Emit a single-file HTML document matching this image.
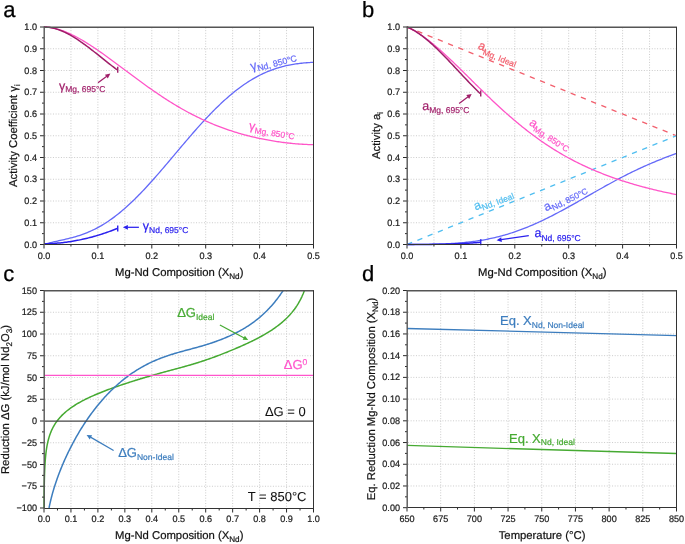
<!DOCTYPE html>
<html><head><meta charset="utf-8"><style>
html,body{margin:0;padding:0;background:#fff;}
body{width:685px;height:544px;overflow:hidden;font-family:"Liberation Sans", sans-serif;}
svg{display:block;will-change:transform;text-rendering:geometricPrecision;}
</style></head><body>
<svg width="685" height="544" viewBox="0 0 685 544" font-family='"Liberation Sans", sans-serif'>
<rect width="685" height="544" fill="#fff"/>
<text x="3.2" y="17.2" font-size="22" text-anchor="start" fill="#000" stroke="#000" stroke-width="0.25" >a</text>
<text x="362" y="17.2" font-size="22" text-anchor="start" fill="#000" stroke="#000" stroke-width="0.25" >b</text>
<text x="3.2" y="281" font-size="22" text-anchor="start" fill="#000" stroke="#000" stroke-width="0.25" >c</text>
<text x="362" y="281" font-size="22" text-anchor="start" fill="#000" stroke="#000" stroke-width="0.25" >d</text>
<line x1="70.95" y1="27.5" x2="70.95" y2="244" stroke="#cbcbcb" stroke-width="1" stroke-dasharray="1 1.65"/>
<line x1="97.9" y1="27.5" x2="97.9" y2="244" stroke="#cbcbcb" stroke-width="1" stroke-dasharray="1 1.65"/>
<line x1="124.85" y1="27.5" x2="124.85" y2="244" stroke="#cbcbcb" stroke-width="1" stroke-dasharray="1 1.65"/>
<line x1="151.8" y1="27.5" x2="151.8" y2="244" stroke="#cbcbcb" stroke-width="1" stroke-dasharray="1 1.65"/>
<line x1="178.75" y1="27.5" x2="178.75" y2="244" stroke="#cbcbcb" stroke-width="1" stroke-dasharray="1 1.65"/>
<line x1="205.7" y1="27.5" x2="205.7" y2="244" stroke="#cbcbcb" stroke-width="1" stroke-dasharray="1 1.65"/>
<line x1="232.65" y1="27.5" x2="232.65" y2="244" stroke="#cbcbcb" stroke-width="1" stroke-dasharray="1 1.65"/>
<line x1="259.6" y1="27.5" x2="259.6" y2="244" stroke="#cbcbcb" stroke-width="1" stroke-dasharray="1 1.65"/>
<line x1="286.55" y1="27.5" x2="286.55" y2="244" stroke="#cbcbcb" stroke-width="1" stroke-dasharray="1 1.65"/>
<line x1="45" y1="222.75" x2="313" y2="222.75" stroke="#cbcbcb" stroke-width="1" stroke-dasharray="1 1.65"/>
<line x1="45" y1="201" x2="313" y2="201" stroke="#cbcbcb" stroke-width="1" stroke-dasharray="1 1.65"/>
<line x1="45" y1="179.25" x2="313" y2="179.25" stroke="#cbcbcb" stroke-width="1" stroke-dasharray="1 1.65"/>
<line x1="45" y1="157.5" x2="313" y2="157.5" stroke="#cbcbcb" stroke-width="1" stroke-dasharray="1 1.65"/>
<line x1="45" y1="135.75" x2="313" y2="135.75" stroke="#cbcbcb" stroke-width="1" stroke-dasharray="1 1.65"/>
<line x1="45" y1="114" x2="313" y2="114" stroke="#cbcbcb" stroke-width="1" stroke-dasharray="1 1.65"/>
<line x1="45" y1="92.25" x2="313" y2="92.25" stroke="#cbcbcb" stroke-width="1" stroke-dasharray="1 1.65"/>
<line x1="45" y1="70.5" x2="313" y2="70.5" stroke="#cbcbcb" stroke-width="1" stroke-dasharray="1 1.65"/>
<line x1="45" y1="48.75" x2="313" y2="48.75" stroke="#cbcbcb" stroke-width="1" stroke-dasharray="1 1.65"/>
<line x1="433.95" y1="27.5" x2="433.95" y2="244" stroke="#cbcbcb" stroke-width="1" stroke-dasharray="1 1.65"/>
<line x1="460.9" y1="27.5" x2="460.9" y2="244" stroke="#cbcbcb" stroke-width="1" stroke-dasharray="1 1.65"/>
<line x1="487.85" y1="27.5" x2="487.85" y2="244" stroke="#cbcbcb" stroke-width="1" stroke-dasharray="1 1.65"/>
<line x1="514.8" y1="27.5" x2="514.8" y2="244" stroke="#cbcbcb" stroke-width="1" stroke-dasharray="1 1.65"/>
<line x1="541.75" y1="27.5" x2="541.75" y2="244" stroke="#cbcbcb" stroke-width="1" stroke-dasharray="1 1.65"/>
<line x1="568.7" y1="27.5" x2="568.7" y2="244" stroke="#cbcbcb" stroke-width="1" stroke-dasharray="1 1.65"/>
<line x1="595.65" y1="27.5" x2="595.65" y2="244" stroke="#cbcbcb" stroke-width="1" stroke-dasharray="1 1.65"/>
<line x1="622.6" y1="27.5" x2="622.6" y2="244" stroke="#cbcbcb" stroke-width="1" stroke-dasharray="1 1.65"/>
<line x1="649.55" y1="27.5" x2="649.55" y2="244" stroke="#cbcbcb" stroke-width="1" stroke-dasharray="1 1.65"/>
<line x1="408" y1="222.75" x2="676" y2="222.75" stroke="#cbcbcb" stroke-width="1" stroke-dasharray="1 1.65"/>
<line x1="408" y1="201" x2="676" y2="201" stroke="#cbcbcb" stroke-width="1" stroke-dasharray="1 1.65"/>
<line x1="408" y1="179.25" x2="676" y2="179.25" stroke="#cbcbcb" stroke-width="1" stroke-dasharray="1 1.65"/>
<line x1="408" y1="157.5" x2="676" y2="157.5" stroke="#cbcbcb" stroke-width="1" stroke-dasharray="1 1.65"/>
<line x1="408" y1="135.75" x2="676" y2="135.75" stroke="#cbcbcb" stroke-width="1" stroke-dasharray="1 1.65"/>
<line x1="408" y1="114" x2="676" y2="114" stroke="#cbcbcb" stroke-width="1" stroke-dasharray="1 1.65"/>
<line x1="408" y1="92.25" x2="676" y2="92.25" stroke="#cbcbcb" stroke-width="1" stroke-dasharray="1 1.65"/>
<line x1="408" y1="70.5" x2="676" y2="70.5" stroke="#cbcbcb" stroke-width="1" stroke-dasharray="1 1.65"/>
<line x1="408" y1="48.75" x2="676" y2="48.75" stroke="#cbcbcb" stroke-width="1" stroke-dasharray="1 1.65"/>
<line x1="70.95" y1="291" x2="70.95" y2="507.5" stroke="#cbcbcb" stroke-width="1" stroke-dasharray="1 1.65"/>
<line x1="97.9" y1="291" x2="97.9" y2="507.5" stroke="#cbcbcb" stroke-width="1" stroke-dasharray="1 1.65"/>
<line x1="124.85" y1="291" x2="124.85" y2="507.5" stroke="#cbcbcb" stroke-width="1" stroke-dasharray="1 1.65"/>
<line x1="151.8" y1="291" x2="151.8" y2="507.5" stroke="#cbcbcb" stroke-width="1" stroke-dasharray="1 1.65"/>
<line x1="178.75" y1="291" x2="178.75" y2="507.5" stroke="#cbcbcb" stroke-width="1" stroke-dasharray="1 1.65"/>
<line x1="205.7" y1="291" x2="205.7" y2="507.5" stroke="#cbcbcb" stroke-width="1" stroke-dasharray="1 1.65"/>
<line x1="232.65" y1="291" x2="232.65" y2="507.5" stroke="#cbcbcb" stroke-width="1" stroke-dasharray="1 1.65"/>
<line x1="259.6" y1="291" x2="259.6" y2="507.5" stroke="#cbcbcb" stroke-width="1" stroke-dasharray="1 1.65"/>
<line x1="286.55" y1="291" x2="286.55" y2="507.5" stroke="#cbcbcb" stroke-width="1" stroke-dasharray="1 1.65"/>
<line x1="45" y1="486.25" x2="313" y2="486.25" stroke="#cbcbcb" stroke-width="1" stroke-dasharray="1 1.65"/>
<line x1="45" y1="464.5" x2="313" y2="464.5" stroke="#cbcbcb" stroke-width="1" stroke-dasharray="1 1.65"/>
<line x1="45" y1="442.75" x2="313" y2="442.75" stroke="#cbcbcb" stroke-width="1" stroke-dasharray="1 1.65"/>
<line x1="45" y1="399.25" x2="313" y2="399.25" stroke="#cbcbcb" stroke-width="1" stroke-dasharray="1 1.65"/>
<line x1="45" y1="377.5" x2="313" y2="377.5" stroke="#cbcbcb" stroke-width="1" stroke-dasharray="1 1.65"/>
<line x1="45" y1="355.75" x2="313" y2="355.75" stroke="#cbcbcb" stroke-width="1" stroke-dasharray="1 1.65"/>
<line x1="45" y1="334" x2="313" y2="334" stroke="#cbcbcb" stroke-width="1" stroke-dasharray="1 1.65"/>
<line x1="45" y1="312.25" x2="313" y2="312.25" stroke="#cbcbcb" stroke-width="1" stroke-dasharray="1 1.65"/>
<line x1="440.69" y1="291" x2="440.69" y2="507.5" stroke="#cbcbcb" stroke-width="1" stroke-dasharray="1 1.65"/>
<line x1="474.38" y1="291" x2="474.38" y2="507.5" stroke="#cbcbcb" stroke-width="1" stroke-dasharray="1 1.65"/>
<line x1="508.06" y1="291" x2="508.06" y2="507.5" stroke="#cbcbcb" stroke-width="1" stroke-dasharray="1 1.65"/>
<line x1="541.75" y1="291" x2="541.75" y2="507.5" stroke="#cbcbcb" stroke-width="1" stroke-dasharray="1 1.65"/>
<line x1="575.44" y1="291" x2="575.44" y2="507.5" stroke="#cbcbcb" stroke-width="1" stroke-dasharray="1 1.65"/>
<line x1="609.12" y1="291" x2="609.12" y2="507.5" stroke="#cbcbcb" stroke-width="1" stroke-dasharray="1 1.65"/>
<line x1="642.81" y1="291" x2="642.81" y2="507.5" stroke="#cbcbcb" stroke-width="1" stroke-dasharray="1 1.65"/>
<line x1="408" y1="485.98" x2="676" y2="485.98" stroke="#cbcbcb" stroke-width="1" stroke-dasharray="1 1.65"/>
<line x1="408" y1="464.26" x2="676" y2="464.26" stroke="#cbcbcb" stroke-width="1" stroke-dasharray="1 1.65"/>
<line x1="408" y1="442.54" x2="676" y2="442.54" stroke="#cbcbcb" stroke-width="1" stroke-dasharray="1 1.65"/>
<line x1="408" y1="420.82" x2="676" y2="420.82" stroke="#cbcbcb" stroke-width="1" stroke-dasharray="1 1.65"/>
<line x1="408" y1="399.1" x2="676" y2="399.1" stroke="#cbcbcb" stroke-width="1" stroke-dasharray="1 1.65"/>
<line x1="408" y1="377.38" x2="676" y2="377.38" stroke="#cbcbcb" stroke-width="1" stroke-dasharray="1 1.65"/>
<line x1="408" y1="355.66" x2="676" y2="355.66" stroke="#cbcbcb" stroke-width="1" stroke-dasharray="1 1.65"/>
<line x1="408" y1="333.94" x2="676" y2="333.94" stroke="#cbcbcb" stroke-width="1" stroke-dasharray="1 1.65"/>
<line x1="408" y1="312.22" x2="676" y2="312.22" stroke="#cbcbcb" stroke-width="1" stroke-dasharray="1 1.65"/>
<path d="M44 244.5 L45.35 244.09 L46.71 243.7 L48.06 243.33 L49.42 242.97 L50.77 242.63 L52.13 242.3 L53.48 241.97 L54.83 241.66 L56.19 241.35 L57.54 241.05 L58.9 240.74 L60.25 240.44 L61.61 240.14 L62.96 239.84 L64.31 239.53 L65.67 239.21 L67.02 238.89 L68.38 238.56 L69.73 238.22 L71.09 237.88 L72.44 237.52 L73.79 237.14 L75.15 236.76 L76.5 236.36 L77.86 235.94 L79.21 235.51 L80.57 235.06 L81.92 234.59 L83.27 234.11 L84.63 233.6 L85.98 233.08 L87.34 232.53 L88.69 231.97 L90.05 231.38 L91.4 230.77 L92.75 230.14 L94.11 229.49 L95.46 228.81 L96.82 228.11 L98.17 227.39 L99.53 226.64 L100.88 225.88 L102.23 225.08 L103.59 224.27 L104.94 223.43 L106.3 222.56 L107.65 221.67 L109.01 220.76 L110.36 219.83 L111.71 218.87 L113.07 217.89 L114.42 216.88 L115.78 215.85 L117.13 214.8 L118.48 213.72 L119.84 212.62 L121.19 211.5 L122.55 210.36 L123.9 209.2 L125.26 208.01 L126.61 206.81 L127.96 205.58 L129.32 204.34 L130.67 203.07 L132.03 201.79 L133.38 200.48 L134.74 199.16 L136.09 197.82 L137.44 196.46 L138.8 195.08 L140.15 193.69 L141.51 192.29 L142.86 190.86 L144.22 189.43 L145.57 187.98 L146.92 186.51 L148.28 185.03 L149.63 183.54 L150.99 182.04 L152.34 180.53 L153.7 179 L155.05 177.47 L156.4 175.92 L157.76 174.37 L159.11 172.81 L160.47 171.24 L161.82 169.67 L163.18 168.09 L164.53 166.5 L165.88 164.91 L167.24 163.32 L168.59 161.72 L169.95 160.12 L171.3 158.51 L172.66 156.91 L174.01 155.3 L175.36 153.69 L176.72 152.08 L178.07 150.48 L179.43 148.87 L180.78 147.27 L182.14 145.67 L183.49 144.08 L184.84 142.48 L186.2 140.9 L187.55 139.31 L188.91 137.74 L190.26 136.17 L191.62 134.61 L192.97 133.05 L194.32 131.5 L195.68 129.97 L197.03 128.44 L198.39 126.92 L199.74 125.41 L201.1 123.91 L202.45 122.43 L203.8 120.95 L205.16 119.49 L206.51 118.04 L207.87 116.61 L209.22 115.19 L210.58 113.78 L211.93 112.39 L213.28 111.01 L214.64 109.65 L215.99 108.31 L217.35 106.98 L218.7 105.67 L220.06 104.37 L221.41 103.09 L222.76 101.83 L224.12 100.59 L225.47 99.37 L226.83 98.17 L228.18 96.98 L229.54 95.82 L230.89 94.67 L232.24 93.55 L233.6 92.44 L234.95 91.35 L236.31 90.29 L237.66 89.25 L239.02 88.22 L240.37 87.22 L241.72 86.24 L243.08 85.28 L244.43 84.34 L245.79 83.42 L247.14 82.53 L248.49 81.65 L249.85 80.8 L251.2 79.97 L252.56 79.16 L253.91 78.37 L255.27 77.61 L256.62 76.86 L257.97 76.14 L259.33 75.44 L260.68 74.76 L262.04 74.1 L263.39 73.46 L264.75 72.85 L266.1 72.25 L267.45 71.68 L268.81 71.12 L270.16 70.59 L271.52 70.07 L272.87 69.58 L274.23 69.1 L275.58 68.65 L276.93 68.21 L278.29 67.8 L279.64 67.4 L281 67.02 L282.35 66.65 L283.71 66.31 L285.06 65.98 L286.41 65.67 L287.77 65.38 L289.12 65.1 L290.48 64.84 L291.83 64.59 L293.19 64.36 L294.54 64.14 L295.89 63.93 L297.25 63.74 L298.6 63.56 L299.96 63.4 L301.31 63.24 L302.67 63.1 L304.02 62.97 L305.37 62.85 L306.73 62.74 L308.08 62.64 L309.44 62.54 L310.79 62.46 L312.15 62.38 L313.5 62.31" fill="none" stroke="#6469f8" stroke-width="1.3" stroke-linejoin="round" />
<path d="M44 27 L45.35 27.06 L46.71 27.16 L48.06 27.29 L49.42 27.46 L50.77 27.67 L52.13 27.91 L53.48 28.18 L54.83 28.48 L56.19 28.82 L57.54 29.18 L58.9 29.58 L60.25 30 L61.61 30.45 L62.96 30.93 L64.31 31.44 L65.67 31.97 L67.02 32.52 L68.38 33.1 L69.73 33.7 L71.09 34.33 L72.44 34.98 L73.79 35.64 L75.15 36.33 L76.5 37.04 L77.86 37.77 L79.21 38.51 L80.57 39.28 L81.92 40.05 L83.27 40.85 L84.63 41.66 L85.98 42.49 L87.34 43.33 L88.69 44.18 L90.05 45.04 L91.4 45.92 L92.75 46.81 L94.11 47.71 L95.46 48.63 L96.82 49.55 L98.17 50.48 L99.53 51.42 L100.88 52.37 L102.23 53.32 L103.59 54.29 L104.94 55.26 L106.3 56.23 L107.65 57.21 L109.01 58.2 L110.36 59.19 L111.71 60.19 L113.07 61.19 L114.42 62.19 L115.78 63.19 L117.13 64.2 L118.48 65.21 L119.84 66.22 L121.19 67.24 L122.55 68.25 L123.9 69.26 L125.26 70.28 L126.61 71.29 L127.96 72.3 L129.32 73.31 L130.67 74.32 L132.03 75.33 L133.38 76.34 L134.74 77.34 L136.09 78.34 L137.44 79.34 L138.8 80.33 L140.15 81.32 L141.51 82.31 L142.86 83.29 L144.22 84.27 L145.57 85.24 L146.92 86.21 L148.28 87.17 L149.63 88.13 L150.99 89.08 L152.34 90.02 L153.7 90.96 L155.05 91.89 L156.4 92.82 L157.76 93.74 L159.11 94.65 L160.47 95.56 L161.82 96.46 L163.18 97.35 L164.53 98.23 L165.88 99.1 L167.24 99.97 L168.59 100.83 L169.95 101.68 L171.3 102.53 L172.66 103.36 L174.01 104.19 L175.36 105.01 L176.72 105.82 L178.07 106.62 L179.43 107.41 L180.78 108.19 L182.14 108.96 L183.49 109.73 L184.84 110.49 L186.2 111.23 L187.55 111.97 L188.91 112.7 L190.26 113.42 L191.62 114.13 L192.97 114.83 L194.32 115.52 L195.68 116.2 L197.03 116.88 L198.39 117.54 L199.74 118.19 L201.1 118.84 L202.45 119.48 L203.8 120.1 L205.16 120.72 L206.51 121.33 L207.87 121.93 L209.22 122.52 L210.58 123.1 L211.93 123.67 L213.28 124.23 L214.64 124.78 L215.99 125.33 L217.35 125.86 L218.7 126.39 L220.06 126.91 L221.41 127.41 L222.76 127.91 L224.12 128.41 L225.47 128.89 L226.83 129.36 L228.18 129.83 L229.54 130.29 L230.89 130.73 L232.24 131.18 L233.6 131.61 L234.95 132.03 L236.31 132.45 L237.66 132.86 L239.02 133.26 L240.37 133.65 L241.72 134.04 L243.08 134.41 L244.43 134.78 L245.79 135.14 L247.14 135.5 L248.49 135.85 L249.85 136.19 L251.2 136.52 L252.56 136.84 L253.91 137.16 L255.27 137.47 L256.62 137.78 L257.97 138.08 L259.33 138.37 L260.68 138.65 L262.04 138.93 L263.39 139.2 L264.75 139.46 L266.1 139.72 L267.45 139.97 L268.81 140.22 L270.16 140.45 L271.52 140.69 L272.87 140.91 L274.23 141.13 L275.58 141.34 L276.93 141.55 L278.29 141.75 L279.64 141.94 L281 142.13 L282.35 142.31 L283.71 142.49 L285.06 142.66 L286.41 142.82 L287.77 142.98 L289.12 143.13 L290.48 143.27 L291.83 143.41 L293.19 143.54 L294.54 143.66 L295.89 143.78 L297.25 143.89 L298.6 144 L299.96 144.09 L301.31 144.18 L302.67 144.27 L304.02 144.34 L305.37 144.41 L306.73 144.47 L308.08 144.53 L309.44 144.57 L310.79 144.61 L312.15 144.64 L313.5 144.67" fill="none" stroke="#ff55c8" stroke-width="1.3" stroke-linejoin="round" />
<path d="M44 27 L45.24 27.02 L46.48 27.08 L47.71 27.19 L48.95 27.33 L50.19 27.51 L51.43 27.73 L52.67 27.99 L53.9 28.28 L55.14 28.61 L56.38 28.97 L57.62 29.37 L58.85 29.79 L60.09 30.25 L61.33 30.74 L62.57 31.26 L63.81 31.81 L65.04 32.39 L66.28 32.99 L67.52 33.62 L68.76 34.28 L70 34.96 L71.23 35.66 L72.47 36.38 L73.71 37.13 L74.95 37.9 L76.18 38.68 L77.42 39.49 L78.66 40.31 L79.9 41.15 L81.14 42.01 L82.37 42.88 L83.61 43.77 L84.85 44.67 L86.09 45.58 L87.33 46.5 L88.56 47.44 L89.8 48.38 L91.04 49.33 L92.28 50.29 L93.51 51.26 L94.75 52.23 L95.99 53.21 L97.23 54.2 L98.47 55.18 L99.7 56.17 L100.94 57.16 L102.18 58.15 L103.42 59.14 L104.66 60.13 L105.89 61.12 L107.13 62.11 L108.37 63.09 L109.61 64.06 L110.85 65.03 L112.08 65.99 L113.32 66.95 L114.56 67.9 L115.8 68.84 L117.03 69.76" fill="none" stroke="#a01e69" stroke-width="1.5" stroke-linejoin="round" />
<path d="M44 243.8 L45.24 243.78 L46.48 243.75 L47.71 243.72 L48.95 243.67 L50.19 243.62 L51.43 243.56 L52.67 243.49 L53.9 243.41 L55.14 243.32 L56.38 243.23 L57.62 243.12 L58.85 243.01 L60.09 242.89 L61.33 242.77 L62.57 242.63 L63.81 242.49 L65.04 242.34 L66.28 242.17 L67.52 242.01 L68.76 241.83 L70 241.64 L71.23 241.45 L72.47 241.25 L73.71 241.04 L74.95 240.82 L76.18 240.6 L77.42 240.36 L78.66 240.12 L79.9 239.87 L81.14 239.61 L82.37 239.34 L83.61 239.07 L84.85 238.78 L86.09 238.49 L87.33 238.19 L88.56 237.88 L89.8 237.57 L91.04 237.24 L92.28 236.91 L93.51 236.57 L94.75 236.22 L95.99 235.86 L97.23 235.5 L98.47 235.12 L99.7 234.74 L100.94 234.35 L102.18 233.95 L103.42 233.55 L104.66 233.13 L105.89 232.71 L107.13 232.28 L108.37 231.84 L109.61 231.39 L110.85 230.93 L112.08 230.47 L113.32 230 L114.56 229.52 L115.8 229.03 L117.03 228.53" fill="none" stroke="#2a20ee" stroke-width="1.5" stroke-linejoin="round" />
<line x1="117.73" y1="66.76" x2="117.73" y2="72.76" stroke="#a01e69" stroke-width="1.4"/>
<line x1="117.73" y1="225.53" x2="117.73" y2="231.53" stroke="#2a20ee" stroke-width="1.4"/>
<path d="M407 27.0 L676.5 135.75" fill="none" stroke="#f2606e" stroke-width="1.3" stroke-linejoin="round" stroke-dasharray="5.3 5.72" stroke-dashoffset="-0.2"/>
<path d="M407 244.5 L676.5 135.75" fill="none" stroke="#50bef0" stroke-width="1.3" stroke-linejoin="round" stroke-dasharray="5.3 5.72" stroke-dashoffset="-0.2"/>
<path d="M407 244.5 L408.35 244.5 L409.71 244.5 L411.06 244.49 L412.42 244.48 L413.77 244.48 L415.13 244.47 L416.48 244.46 L417.83 244.44 L419.19 244.43 L420.54 244.41 L421.9 244.4 L423.25 244.38 L424.61 244.36 L425.96 244.34 L427.31 244.31 L428.67 244.29 L430.02 244.26 L431.38 244.23 L432.73 244.2 L434.09 244.17 L435.44 244.13 L436.79 244.09 L438.15 244.05 L439.5 244.01 L440.86 243.96 L442.21 243.91 L443.57 243.86 L444.92 243.8 L446.27 243.74 L447.63 243.68 L448.98 243.61 L450.34 243.54 L451.69 243.46 L453.05 243.38 L454.4 243.29 L455.75 243.2 L457.11 243.1 L458.46 243 L459.82 242.89 L461.17 242.78 L462.53 242.66 L463.88 242.53 L465.23 242.4 L466.59 242.26 L467.94 242.12 L469.3 241.96 L470.65 241.8 L472.01 241.64 L473.36 241.46 L474.71 241.28 L476.07 241.09 L477.42 240.89 L478.78 240.68 L480.13 240.47 L481.48 240.25 L482.84 240.02 L484.19 239.77 L485.55 239.53 L486.9 239.27 L488.26 239 L489.61 238.72 L490.96 238.44 L492.32 238.14 L493.67 237.84 L495.03 237.52 L496.38 237.2 L497.74 236.87 L499.09 236.52 L500.44 236.17 L501.8 235.81 L503.15 235.44 L504.51 235.05 L505.86 234.66 L507.22 234.26 L508.57 233.85 L509.92 233.43 L511.28 233 L512.63 232.55 L513.99 232.1 L515.34 231.64 L516.7 231.17 L518.05 230.69 L519.4 230.2 L520.76 229.7 L522.11 229.19 L523.47 228.67 L524.82 228.14 L526.18 227.61 L527.53 227.06 L528.88 226.5 L530.24 225.94 L531.59 225.36 L532.95 224.78 L534.3 224.19 L535.66 223.59 L537.01 222.98 L538.36 222.37 L539.72 221.74 L541.07 221.11 L542.43 220.47 L543.78 219.83 L545.14 219.17 L546.49 218.51 L547.84 217.84 L549.2 217.17 L550.55 216.49 L551.91 215.8 L553.26 215.1 L554.62 214.4 L555.97 213.7 L557.32 212.99 L558.68 212.27 L560.03 211.55 L561.39 210.82 L562.74 210.09 L564.1 209.35 L565.45 208.61 L566.8 207.87 L568.16 207.12 L569.51 206.37 L570.87 205.62 L572.22 204.86 L573.58 204.1 L574.93 203.34 L576.28 202.58 L577.64 201.81 L578.99 201.04 L580.35 200.27 L581.7 199.5 L583.06 198.73 L584.41 197.96 L585.76 197.18 L587.12 196.41 L588.47 195.64 L589.83 194.86 L591.18 194.09 L592.54 193.32 L593.89 192.55 L595.24 191.78 L596.6 191.01 L597.95 190.24 L599.31 189.48 L600.66 188.72 L602.02 187.96 L603.37 187.2 L604.72 186.44 L606.08 185.69 L607.43 184.94 L608.79 184.2 L610.14 183.46 L611.49 182.72 L612.85 181.98 L614.2 181.25 L615.56 180.52 L616.91 179.8 L618.27 179.08 L619.62 178.37 L620.97 177.66 L622.33 176.96 L623.68 176.26 L625.04 175.57 L626.39 174.88 L627.75 174.2 L629.1 173.52 L630.45 172.85 L631.81 172.19 L633.16 171.53 L634.52 170.87 L635.87 170.22 L637.23 169.58 L638.58 168.95 L639.93 168.32 L641.29 167.69 L642.64 167.07 L644 166.46 L645.35 165.85 L646.71 165.25 L648.06 164.66 L649.41 164.07 L650.77 163.49 L652.12 162.91 L653.48 162.34 L654.83 161.78 L656.19 161.22 L657.54 160.66 L658.89 160.11 L660.25 159.57 L661.6 159.03 L662.96 158.5 L664.31 157.97 L665.67 157.45 L667.02 156.93 L668.37 156.41 L669.73 155.9 L671.08 155.4 L672.44 154.89 L673.79 154.39 L675.15 153.9 L676.5 153.4" fill="none" stroke="#6469f8" stroke-width="1.3" stroke-linejoin="round" />
<path d="M407 27 L408.35 27.61 L409.71 28.25 L411.06 28.93 L412.42 29.64 L413.77 30.39 L415.13 31.17 L416.48 31.98 L417.83 32.82 L419.19 33.69 L420.54 34.59 L421.9 35.52 L423.25 36.47 L424.61 37.44 L425.96 38.44 L427.31 39.47 L428.67 40.51 L430.02 41.58 L431.38 42.66 L432.73 43.77 L434.09 44.89 L435.44 46.03 L436.79 47.19 L438.15 48.36 L439.5 49.55 L440.86 50.75 L442.21 51.97 L443.57 53.2 L444.92 54.44 L446.27 55.69 L447.63 56.95 L448.98 58.22 L450.34 59.5 L451.69 60.79 L453.05 62.08 L454.4 63.39 L455.75 64.69 L457.11 66.01 L458.46 67.33 L459.82 68.65 L461.17 69.98 L462.53 71.31 L463.88 72.64 L465.23 73.98 L466.59 75.31 L467.94 76.65 L469.3 77.99 L470.65 79.33 L472.01 80.67 L473.36 82.01 L474.71 83.34 L476.07 84.68 L477.42 86.01 L478.78 87.34 L480.13 88.66 L481.48 89.99 L482.84 91.31 L484.19 92.62 L485.55 93.93 L486.9 95.24 L488.26 96.54 L489.61 97.84 L490.96 99.13 L492.32 100.41 L493.67 101.69 L495.03 102.96 L496.38 104.22 L497.74 105.48 L499.09 106.73 L500.44 107.97 L501.8 109.2 L503.15 110.43 L504.51 111.65 L505.86 112.86 L507.22 114.06 L508.57 115.25 L509.92 116.43 L511.28 117.61 L512.63 118.77 L513.99 119.93 L515.34 121.07 L516.7 122.21 L518.05 123.34 L519.4 124.45 L520.76 125.56 L522.11 126.65 L523.47 127.74 L524.82 128.82 L526.18 129.88 L527.53 130.94 L528.88 131.98 L530.24 133.02 L531.59 134.04 L532.95 135.05 L534.3 136.06 L535.66 137.05 L537.01 138.03 L538.36 139 L539.72 139.96 L541.07 140.91 L542.43 141.85 L543.78 142.78 L545.14 143.7 L546.49 144.61 L547.84 145.5 L549.2 146.39 L550.55 147.27 L551.91 148.13 L553.26 148.99 L554.62 149.83 L555.97 150.67 L557.32 151.49 L558.68 152.31 L560.03 153.11 L561.39 153.91 L562.74 154.69 L564.1 155.46 L565.45 156.23 L566.8 156.98 L568.16 157.73 L569.51 158.46 L570.87 159.19 L572.22 159.91 L573.58 160.62 L574.93 161.31 L576.28 162 L577.64 162.68 L578.99 163.35 L580.35 164.02 L581.7 164.67 L583.06 165.32 L584.41 165.95 L585.76 166.58 L587.12 167.2 L588.47 167.81 L589.83 168.42 L591.18 169.01 L592.54 169.6 L593.89 170.18 L595.24 170.75 L596.6 171.32 L597.95 171.88 L599.31 172.43 L600.66 172.97 L602.02 173.51 L603.37 174.04 L604.72 174.56 L606.08 175.07 L607.43 175.58 L608.79 176.08 L610.14 176.58 L611.49 177.07 L612.85 177.55 L614.2 178.03 L615.56 178.5 L616.91 178.96 L618.27 179.42 L619.62 179.88 L620.97 180.32 L622.33 180.77 L623.68 181.2 L625.04 181.63 L626.39 182.06 L627.75 182.48 L629.1 182.9 L630.45 183.31 L631.81 183.71 L633.16 184.11 L634.52 184.51 L635.87 184.9 L637.23 185.28 L638.58 185.66 L639.93 186.04 L641.29 186.41 L642.64 186.78 L644 187.14 L645.35 187.5 L646.71 187.86 L648.06 188.2 L649.41 188.55 L650.77 188.89 L652.12 189.23 L653.48 189.56 L654.83 189.89 L656.19 190.21 L657.54 190.53 L658.89 190.85 L660.25 191.16 L661.6 191.47 L662.96 191.77 L664.31 192.07 L665.67 192.37 L667.02 192.66 L668.37 192.95 L669.73 193.23 L671.08 193.51 L672.44 193.78 L673.79 194.05 L675.15 194.32 L676.5 194.58" fill="none" stroke="#ff55c8" stroke-width="1.3" stroke-linejoin="round" />
<path d="M407 27 L408.24 27.52 L409.48 28.08 L410.71 28.68 L411.95 29.32 L413.19 30 L414.43 30.72 L415.67 31.47 L416.9 32.25 L418.14 33.07 L419.38 33.92 L420.62 34.8 L421.85 35.71 L423.09 36.65 L424.33 37.62 L425.57 38.61 L426.81 39.63 L428.04 40.67 L429.28 41.74 L430.52 42.82 L431.76 43.93 L433 45.06 L434.23 46.21 L435.47 47.38 L436.71 48.56 L437.95 49.76 L439.18 50.97 L440.42 52.2 L441.66 53.44 L442.9 54.7 L444.14 55.96 L445.37 57.24 L446.61 58.52 L447.85 59.81 L449.09 61.11 L450.33 62.42 L451.56 63.73 L452.8 65.05 L454.04 66.37 L455.28 67.69 L456.51 69.01 L457.75 70.34 L458.99 71.66 L460.23 72.99 L461.47 74.31 L462.7 75.64 L463.94 76.95 L465.18 78.27 L466.42 79.58 L467.66 80.88 L468.89 82.18 L470.13 83.47 L471.37 84.75 L472.61 86.02 L473.85 87.29 L475.08 88.54 L476.32 89.79 L477.56 91.02 L478.8 92.24 L480.03 93.44" fill="none" stroke="#a01e69" stroke-width="1.5" stroke-linejoin="round" />
<path d="M407 244.5 L408.24 244.5 L409.48 244.5 L410.71 244.49 L411.95 244.49 L413.19 244.49 L414.43 244.49 L415.67 244.48 L416.9 244.48 L418.14 244.48 L419.38 244.47 L420.62 244.47 L421.85 244.46 L423.09 244.45 L424.33 244.44 L425.57 244.44 L426.81 244.43 L428.04 244.42 L429.28 244.4 L430.52 244.39 L431.76 244.38 L433 244.36 L434.23 244.35 L435.47 244.33 L436.71 244.31 L437.95 244.29 L439.18 244.27 L440.42 244.24 L441.66 244.22 L442.9 244.19 L444.14 244.16 L445.37 244.13 L446.61 244.1 L447.85 244.07 L449.09 244.03 L450.33 243.99 L451.56 243.95 L452.8 243.91 L454.04 243.87 L455.28 243.82 L456.51 243.77 L457.75 243.72 L458.99 243.67 L460.23 243.61 L461.47 243.55 L462.7 243.49 L463.94 243.43 L465.18 243.36 L466.42 243.29 L467.66 243.22 L468.89 243.15 L470.13 243.07 L471.37 242.99 L472.61 242.9 L473.85 242.82 L475.08 242.73 L476.32 242.63 L477.56 242.54 L478.8 242.44 L480.03 242.34" fill="none" stroke="#2a20ee" stroke-width="1.5" stroke-linejoin="round" />
<line x1="480.73" y1="90.44" x2="480.73" y2="96.44" stroke="#a01e69" stroke-width="1.4"/>
<line x1="480.73" y1="239.34" x2="480.73" y2="245.34" stroke="#2a20ee" stroke-width="1.4"/>
<path d="M44.07 508 L44.07 507.42 L44.07 506.84 L44.08 506.26 L44.08 505.68 L44.08 505.1 L44.08 504.52 L44.09 503.94 L44.09 503.37 L44.09 502.79 L44.1 502.21 L44.1 501.63 L44.1 501.05 L44.11 500.47 L44.11 499.89 L44.12 499.31 L44.12 498.73 L44.12 498.15 L44.13 497.57 L44.13 496.99 L44.14 496.41 L44.14 495.83 L44.15 495.25 L44.15 494.67 L44.16 494.09 L44.16 493.52 L44.17 492.94 L44.18 492.36 L44.18 491.78 L44.19 491.2 L44.2 490.62 L44.2 490.04 L44.21 489.46 L44.22 488.88 L44.23 488.3 L44.24 487.72 L44.24 487.14 L44.25 486.56 L44.26 485.98 L44.27 485.4 L44.28 484.82 L44.29 484.24 L44.3 483.66 L44.31 483.08 L44.32 482.5 L44.34 481.92 L44.35 481.34 L44.36 480.76 L44.37 480.18 L44.39 479.6 L44.4 479.02 L44.42 478.44 L44.43 477.86 L44.45 477.28 L44.46 476.7 L44.48 476.12 L44.5 475.53 L44.51 474.95 L44.53 474.37 L44.55 473.79 L44.57 473.21 L44.59 472.63 L44.61 472.05 L44.64 471.47 L44.66 470.89 L44.68 470.31 L44.71 469.73 L44.73 469.14 L44.76 468.56 L44.79 467.98 L44.82 467.4 L44.84 466.82 L44.88 466.24 L44.91 465.65 L44.94 465.07 L44.97 464.49 L45.01 463.91 L45.05 463.32 L45.08 462.74 L45.12 462.16 L45.16 461.58 L45.2 460.99 L45.25 460.41 L45.29 459.83 L45.34 459.24 L45.39 458.66 L45.44 458.08 L45.49 457.49 L45.54 456.91 L45.6 456.33 L45.66 455.74 L45.72 455.16 L45.78 454.57 L45.84 453.99 L45.91 453.4 L45.98 452.82 L46.05 452.23 L46.13 451.65 L46.2 451.06 L46.28 450.47 L46.37 449.89 L46.45 449.3 L46.54 448.71 L46.63 448.12 L46.73 447.54 L46.82 446.95 L46.93 446.36 L47.03 445.77 L47.14 445.18 L47.26 444.59 L47.37 444 L47.5 443.41 L47.62 442.82 L47.75 442.23 L47.89 441.64 L48.03 441.05 L48.17 440.46 L48.33 439.86 L48.48 439.27 L48.64 438.68 L48.81 438.08 L48.99 437.49 L49.17 436.89 L49.35 436.29 L49.55 435.7 L49.75 435.1 L49.95 434.5 L50.17 433.9 L50.39 433.3 L50.62 432.7 L50.86 432.1 L51.11 431.5 L51.37 430.89 L51.63 430.29 L51.91 429.69 L52.2 429.08 L52.49 428.47 L52.8 427.87 L53.12 427.26 L53.45 426.65 L53.79 426.04 L54.14 425.42 L54.51 424.81 L54.89 424.19 L55.28 423.58 L55.69 422.96 L56.11 422.34 L56.55 421.72 L57 421.1 L57.48 420.47 L58.72 418.92 L59.96 417.48 L61.2 416.14 L62.44 414.88 L63.68 413.7 L64.92 412.58 L66.16 411.52 L67.4 410.51 L68.64 409.54 L69.88 408.61 L71.13 407.73 L72.37 406.87 L73.61 406.05 L74.85 405.25 L76.09 404.48 L77.33 403.73 L78.57 403.01 L79.81 402.3 L81.05 401.62 L82.29 400.95 L83.53 400.3 L84.78 399.66 L86.02 399.04 L87.26 398.43 L88.5 397.83 L89.74 397.25 L90.98 396.68 L92.22 396.12 L93.46 395.56 L94.7 395.02 L95.94 394.49 L97.18 393.96 L98.43 393.45 L99.67 392.94 L100.91 392.44 L102.15 391.94 L103.39 391.45 L104.63 390.97 L105.87 390.49 L107.11 390.02 L108.35 389.56 L109.59 389.1 L110.84 388.64 L112.08 388.2 L113.32 387.75 L114.56 387.31 L115.8 386.87 L117.04 386.44 L118.28 386.01 L119.52 385.59 L120.76 385.16 L122 384.75 L123.24 384.33 L124.49 383.92 L125.73 383.51 L126.97 383.1 L128.21 382.7 L129.45 382.3 L130.69 381.9 L131.93 381.51 L133.17 381.12 L134.41 380.73 L135.65 380.34 L136.89 379.96 L138.14 379.57 L139.38 379.19 L140.62 378.82 L141.86 378.44 L143.1 378.07 L144.34 377.7 L145.58 377.33 L146.82 376.96 L148.06 376.6 L149.3 376.24 L150.54 375.88 L151.79 375.52 L153.03 375.16 L154.27 374.81 L155.51 374.46 L156.75 374.11 L157.99 373.76 L159.23 373.42 L160.47 373.07 L161.71 372.73 L162.95 372.39 L164.2 372.05 L165.44 371.71 L166.68 371.37 L167.92 371.04 L169.16 370.7 L170.4 370.37 L171.64 370.03 L172.88 369.7 L174.12 369.37 L175.36 369.03 L176.6 368.7 L177.85 368.36 L179.09 368.03 L180.33 367.69 L181.57 367.35 L182.81 367.01 L184.05 366.67 L185.29 366.32 L186.53 365.97 L187.77 365.62 L189.01 365.27 L190.25 364.91 L191.5 364.55 L192.74 364.18 L193.98 363.81 L195.22 363.43 L196.46 363.05 L197.7 362.67 L198.94 362.28 L200.18 361.89 L201.42 361.49 L202.66 361.08 L203.9 360.67 L205.15 360.26 L206.39 359.83 L207.63 359.41 L208.87 358.98 L210.11 358.54 L211.35 358.1 L212.59 357.65 L213.83 357.2 L215.07 356.74 L216.31 356.28 L217.56 355.81 L218.8 355.34 L220.04 354.87 L221.28 354.39 L222.52 353.9 L223.76 353.42 L225 352.92 L226.24 352.43 L227.48 351.93 L228.72 351.42 L229.96 350.91 L231.21 350.4 L232.45 349.88 L233.69 349.36 L234.93 348.84 L236.17 348.31 L237.41 347.78 L238.65 347.24 L239.89 346.7 L241.13 346.15 L242.37 345.6 L243.61 345.04 L244.86 344.48 L246.1 343.91 L247.34 343.33 L248.58 342.75 L249.82 342.16 L251.06 341.56 L252.3 340.96 L253.54 340.35 L254.78 339.73 L256.02 339.1 L257.27 338.46 L258.51 337.8 L259.75 337.14 L260.99 336.47 L262.23 335.78 L263.47 335.09 L264.71 334.37 L265.95 333.65 L267.19 332.9 L268.43 332.14 L269.67 331.37 L270.92 330.57 L272.16 329.76 L273.4 328.92 L274.64 328.06 L275.88 327.18 L277.12 326.27 L278.36 325.33 L279.6 324.36 L280.84 323.37 L282.08 322.33 L283.32 321.26 L284.57 320.15 L285.81 318.99 L287.05 317.79 L288.29 316.53 L289.53 315.21 L290.77 313.83 L292.01 312.37 L293.25 310.83 L294.49 309.21 L295.73 307.47 L296.97 305.62 L298.22 303.63 L299.46 301.48 L300.7 299.14 L301.94 296.57 L303.18 293.71 L304.42 290.5" fill="none" stroke="#46aa32" stroke-width="1.5" stroke-linejoin="round" />
<path d="M49 508 L49.15 507.28 L49.3 506.56 L49.45 505.83 L49.61 505.09 L49.77 504.35 L49.94 503.6 L50.11 502.84 L50.29 502.07 L50.47 501.29 L50.65 500.51 L50.85 499.71 L51.05 498.91 L51.25 498.1 L51.46 497.28 L51.68 496.45 L51.9 495.61 L52.13 494.76 L52.36 493.9 L52.6 493.03 L52.85 492.15 L53.11 491.26 L53.37 490.36 L53.64 489.45 L53.92 488.52 L54.21 487.59 L54.51 486.64 L54.81 485.68 L55.12 484.7 L55.45 483.72 L55.78 482.72 L56.12 481.7 L56.47 480.68 L56.83 479.64 L57.2 478.58 L57.58 477.51 L57.98 476.43 L58.38 475.33 L58.8 474.21 L59.23 473.08 L59.67 471.94 L60.12 470.78 L60.59 469.6 L61.07 468.4 L61.56 467.19 L62.07 465.96 L62.6 464.71 L63.13 463.45 L63.69 462.17 L64.26 460.87 L64.84 459.55 L65.45 458.21 L66.07 456.86 L66.71 455.48 L67.37 454.09 L68.04 452.68 L68.74 451.25 L69.45 449.8 L70.19 448.33 L70.95 446.84 L72.02 444.78 L73.08 442.77 L74.15 440.79 L75.22 438.86 L76.28 436.96 L77.35 435.1 L78.41 433.28 L79.48 431.49 L80.55 429.73 L81.61 428.01 L82.68 426.31 L83.75 424.65 L84.81 423.02 L85.88 421.41 L86.94 419.84 L88.01 418.29 L89.08 416.76 L90.14 415.27 L91.21 413.8 L92.28 412.35 L93.34 410.94 L94.41 409.54 L95.48 408.17 L96.54 406.82 L97.61 405.5 L98.67 404.2 L99.74 402.92 L100.81 401.66 L101.87 400.43 L102.94 399.21 L104.01 398.02 L105.07 396.85 L106.14 395.69 L107.21 394.56 L108.27 393.45 L109.34 392.36 L110.4 391.28 L111.47 390.23 L112.54 389.19 L113.6 388.18 L114.67 387.18 L115.74 386.2 L116.8 385.23 L117.87 384.29 L118.93 383.36 L120 382.45 L121.07 381.55 L122.13 380.67 L123.2 379.81 L124.27 378.96 L125.33 378.13 L126.4 377.32 L127.47 376.52 L128.53 375.73 L129.6 374.96 L130.66 374.21 L131.73 373.47 L132.8 372.74 L133.86 372.03 L134.93 371.33 L136 370.65 L137.06 369.98 L138.13 369.32 L139.2 368.68 L140.26 368.05 L141.33 367.43 L142.39 366.82 L143.46 366.23 L144.53 365.65 L145.59 365.08 L146.66 364.53 L147.73 363.98 L148.79 363.45 L149.86 362.93 L150.92 362.42 L151.99 361.92 L153.06 361.43 L154.12 360.95 L155.19 360.48 L156.26 360.03 L157.32 359.58 L158.39 359.14 L159.46 358.72 L160.52 358.3 L161.59 357.89 L162.65 357.49 L163.72 357.1 L164.79 356.71 L165.85 356.34 L166.92 355.97 L167.99 355.61 L169.05 355.26 L170.12 354.91 L171.18 354.57 L172.25 354.24 L173.32 353.91 L174.38 353.59 L175.45 353.27 L176.52 352.96 L177.58 352.65 L178.65 352.35 L179.72 352.04 L180.78 351.75 L181.85 351.45 L182.91 351.16 L183.98 350.87 L185.05 350.59 L186.11 350.3 L187.18 350.01 L188.25 349.73 L189.31 349.45 L190.38 349.16 L191.45 348.88 L192.51 348.59 L193.58 348.3 L194.64 348.01 L195.71 347.72 L196.78 347.43 L197.84 347.13 L198.91 346.83 L199.98 346.53 L201.04 346.23 L202.11 345.92 L203.17 345.6 L204.24 345.29 L205.31 344.96 L206.37 344.64 L207.44 344.3 L208.51 343.97 L209.57 343.63 L210.64 343.28 L211.71 342.92 L212.77 342.56 L213.84 342.2 L214.9 341.83 L215.97 341.45 L217.04 341.06 L218.1 340.67 L219.17 340.27 L220.24 339.86 L221.3 339.45 L222.37 339.03 L223.43 338.6 L224.5 338.16 L225.57 337.72 L226.63 337.26 L227.7 336.8 L228.77 336.33 L229.83 335.85 L230.9 335.36 L231.97 334.86 L233.03 334.36 L234.1 333.84 L235.16 333.31 L236.23 332.77 L237.3 332.22 L238.36 331.66 L239.43 331.08 L240.5 330.49 L241.56 329.9 L242.63 329.28 L243.7 328.66 L244.76 328.02 L245.83 327.36 L246.89 326.7 L247.96 326.01 L249.03 325.31 L250.09 324.6 L251.16 323.86 L252.23 323.11 L253.29 322.34 L254.36 321.56 L255.42 320.75 L256.49 319.93 L257.56 319.08 L258.62 318.21 L259.69 317.32 L260.76 316.41 L261.82 315.48 L262.89 314.52 L263.96 313.53 L265.02 312.53 L266.09 311.49 L267.15 310.43 L268.22 309.34 L269.29 308.22 L270.35 307.07 L271.42 305.89 L272.49 304.68 L273.55 303.43 L274.62 302.15 L275.69 300.84 L276.75 299.49 L277.82 298.09 L278.88 296.66 L279.95 295.19 L281.02 293.67 L282.08 292.11 L283.15 290.5" fill="none" stroke="#3c7dbe" stroke-width="1.5" stroke-linejoin="round" />
<line x1="44.7" y1="375.45" x2="313" y2="375.45" stroke="#ff55cc" stroke-width="1.3"/>
<line x1="44.7" y1="421.2" x2="313" y2="421.2" stroke="#444" stroke-width="1.3"/>
<path d="M407.0 328.51 Q541.75 332.31 676.5 335.57" fill="none" stroke="#3c7dbe" stroke-width="1.3" stroke-linejoin="round" />
<path d="M407.0 445.47 Q541.75 449.82 676.5 453.51" fill="none" stroke="#46aa32" stroke-width="1.3" stroke-linejoin="round" />
<line x1="40" y1="244.5" x2="44" y2="244.5" stroke="#2a2a2a" stroke-width="1"/>
<line x1="40" y1="222.75" x2="44" y2="222.75" stroke="#2a2a2a" stroke-width="1"/>
<line x1="40" y1="201" x2="44" y2="201" stroke="#2a2a2a" stroke-width="1"/>
<line x1="40" y1="179.25" x2="44" y2="179.25" stroke="#2a2a2a" stroke-width="1"/>
<line x1="40" y1="157.5" x2="44" y2="157.5" stroke="#2a2a2a" stroke-width="1"/>
<line x1="40" y1="135.75" x2="44" y2="135.75" stroke="#2a2a2a" stroke-width="1"/>
<line x1="40" y1="114" x2="44" y2="114" stroke="#2a2a2a" stroke-width="1"/>
<line x1="40" y1="92.25" x2="44" y2="92.25" stroke="#2a2a2a" stroke-width="1"/>
<line x1="40" y1="70.5" x2="44" y2="70.5" stroke="#2a2a2a" stroke-width="1"/>
<line x1="40" y1="48.75" x2="44" y2="48.75" stroke="#2a2a2a" stroke-width="1"/>
<line x1="40" y1="27" x2="44" y2="27" stroke="#2a2a2a" stroke-width="1"/>
<line x1="42" y1="233.62" x2="44" y2="233.62" stroke="#2a2a2a" stroke-width="1"/>
<line x1="42" y1="211.88" x2="44" y2="211.88" stroke="#2a2a2a" stroke-width="1"/>
<line x1="42" y1="190.12" x2="44" y2="190.12" stroke="#2a2a2a" stroke-width="1"/>
<line x1="42" y1="168.38" x2="44" y2="168.38" stroke="#2a2a2a" stroke-width="1"/>
<line x1="42" y1="146.62" x2="44" y2="146.62" stroke="#2a2a2a" stroke-width="1"/>
<line x1="42" y1="124.87" x2="44" y2="124.87" stroke="#2a2a2a" stroke-width="1"/>
<line x1="42" y1="103.12" x2="44" y2="103.12" stroke="#2a2a2a" stroke-width="1"/>
<line x1="42" y1="81.37" x2="44" y2="81.37" stroke="#2a2a2a" stroke-width="1"/>
<line x1="42" y1="59.62" x2="44" y2="59.62" stroke="#2a2a2a" stroke-width="1"/>
<line x1="42" y1="37.87" x2="44" y2="37.87" stroke="#2a2a2a" stroke-width="1"/>
<line x1="44" y1="244.5" x2="44" y2="248.5" stroke="#2a2a2a" stroke-width="1"/>
<line x1="97.9" y1="244.5" x2="97.9" y2="248.5" stroke="#2a2a2a" stroke-width="1"/>
<line x1="151.8" y1="244.5" x2="151.8" y2="248.5" stroke="#2a2a2a" stroke-width="1"/>
<line x1="205.7" y1="244.5" x2="205.7" y2="248.5" stroke="#2a2a2a" stroke-width="1"/>
<line x1="259.6" y1="244.5" x2="259.6" y2="248.5" stroke="#2a2a2a" stroke-width="1"/>
<line x1="313.5" y1="244.5" x2="313.5" y2="248.5" stroke="#2a2a2a" stroke-width="1"/>
<line x1="70.95" y1="244.5" x2="70.95" y2="246.5" stroke="#2a2a2a" stroke-width="1"/>
<line x1="124.85" y1="244.5" x2="124.85" y2="246.5" stroke="#2a2a2a" stroke-width="1"/>
<line x1="178.75" y1="244.5" x2="178.75" y2="246.5" stroke="#2a2a2a" stroke-width="1"/>
<line x1="232.65" y1="244.5" x2="232.65" y2="246.5" stroke="#2a2a2a" stroke-width="1"/>
<line x1="286.55" y1="244.5" x2="286.55" y2="246.5" stroke="#2a2a2a" stroke-width="1"/>
<text x="0" y="0" font-size="9.4" text-anchor="end" fill="#1a1a1a" stroke="#1a1a1a" stroke-width="0.22" transform="translate(37 247.55) scale(0.97 1)">0.0</text>
<text x="0" y="0" font-size="9.4" text-anchor="end" fill="#1a1a1a" stroke="#1a1a1a" stroke-width="0.22" transform="translate(37 225.8) scale(0.97 1)">0.1</text>
<text x="0" y="0" font-size="9.4" text-anchor="end" fill="#1a1a1a" stroke="#1a1a1a" stroke-width="0.22" transform="translate(37 204.05) scale(0.97 1)">0.2</text>
<text x="0" y="0" font-size="9.4" text-anchor="end" fill="#1a1a1a" stroke="#1a1a1a" stroke-width="0.22" transform="translate(37 182.3) scale(0.97 1)">0.3</text>
<text x="0" y="0" font-size="9.4" text-anchor="end" fill="#1a1a1a" stroke="#1a1a1a" stroke-width="0.22" transform="translate(37 160.55) scale(0.97 1)">0.4</text>
<text x="0" y="0" font-size="9.4" text-anchor="end" fill="#1a1a1a" stroke="#1a1a1a" stroke-width="0.22" transform="translate(37 138.8) scale(0.97 1)">0.5</text>
<text x="0" y="0" font-size="9.4" text-anchor="end" fill="#1a1a1a" stroke="#1a1a1a" stroke-width="0.22" transform="translate(37 117.05) scale(0.97 1)">0.6</text>
<text x="0" y="0" font-size="9.4" text-anchor="end" fill="#1a1a1a" stroke="#1a1a1a" stroke-width="0.22" transform="translate(37 95.3) scale(0.97 1)">0.7</text>
<text x="0" y="0" font-size="9.4" text-anchor="end" fill="#1a1a1a" stroke="#1a1a1a" stroke-width="0.22" transform="translate(37 73.55) scale(0.97 1)">0.8</text>
<text x="0" y="0" font-size="9.4" text-anchor="end" fill="#1a1a1a" stroke="#1a1a1a" stroke-width="0.22" transform="translate(37 51.8) scale(0.97 1)">0.9</text>
<text x="0" y="0" font-size="9.4" text-anchor="end" fill="#1a1a1a" stroke="#1a1a1a" stroke-width="0.22" transform="translate(37 30.05) scale(0.97 1)">1.0</text>
<text x="0" y="0" font-size="9.4" text-anchor="middle" fill="#1a1a1a" stroke="#1a1a1a" stroke-width="0.22" transform="translate(44 258.8) scale(0.97 1)">0.0</text>
<text x="0" y="0" font-size="9.4" text-anchor="middle" fill="#1a1a1a" stroke="#1a1a1a" stroke-width="0.22" transform="translate(97.9 258.8) scale(0.97 1)">0.1</text>
<text x="0" y="0" font-size="9.4" text-anchor="middle" fill="#1a1a1a" stroke="#1a1a1a" stroke-width="0.22" transform="translate(151.8 258.8) scale(0.97 1)">0.2</text>
<text x="0" y="0" font-size="9.4" text-anchor="middle" fill="#1a1a1a" stroke="#1a1a1a" stroke-width="0.22" transform="translate(205.7 258.8) scale(0.97 1)">0.3</text>
<text x="0" y="0" font-size="9.4" text-anchor="middle" fill="#1a1a1a" stroke="#1a1a1a" stroke-width="0.22" transform="translate(259.6 258.8) scale(0.97 1)">0.4</text>
<text x="0" y="0" font-size="9.4" text-anchor="middle" fill="#1a1a1a" stroke="#1a1a1a" stroke-width="0.22" transform="translate(313.5 258.8) scale(0.97 1)">0.5</text>
<line x1="403" y1="244.5" x2="407" y2="244.5" stroke="#2a2a2a" stroke-width="1"/>
<line x1="403" y1="222.75" x2="407" y2="222.75" stroke="#2a2a2a" stroke-width="1"/>
<line x1="403" y1="201" x2="407" y2="201" stroke="#2a2a2a" stroke-width="1"/>
<line x1="403" y1="179.25" x2="407" y2="179.25" stroke="#2a2a2a" stroke-width="1"/>
<line x1="403" y1="157.5" x2="407" y2="157.5" stroke="#2a2a2a" stroke-width="1"/>
<line x1="403" y1="135.75" x2="407" y2="135.75" stroke="#2a2a2a" stroke-width="1"/>
<line x1="403" y1="114" x2="407" y2="114" stroke="#2a2a2a" stroke-width="1"/>
<line x1="403" y1="92.25" x2="407" y2="92.25" stroke="#2a2a2a" stroke-width="1"/>
<line x1="403" y1="70.5" x2="407" y2="70.5" stroke="#2a2a2a" stroke-width="1"/>
<line x1="403" y1="48.75" x2="407" y2="48.75" stroke="#2a2a2a" stroke-width="1"/>
<line x1="403" y1="27" x2="407" y2="27" stroke="#2a2a2a" stroke-width="1"/>
<line x1="405" y1="233.62" x2="407" y2="233.62" stroke="#2a2a2a" stroke-width="1"/>
<line x1="405" y1="211.88" x2="407" y2="211.88" stroke="#2a2a2a" stroke-width="1"/>
<line x1="405" y1="190.12" x2="407" y2="190.12" stroke="#2a2a2a" stroke-width="1"/>
<line x1="405" y1="168.38" x2="407" y2="168.38" stroke="#2a2a2a" stroke-width="1"/>
<line x1="405" y1="146.62" x2="407" y2="146.62" stroke="#2a2a2a" stroke-width="1"/>
<line x1="405" y1="124.87" x2="407" y2="124.87" stroke="#2a2a2a" stroke-width="1"/>
<line x1="405" y1="103.12" x2="407" y2="103.12" stroke="#2a2a2a" stroke-width="1"/>
<line x1="405" y1="81.37" x2="407" y2="81.37" stroke="#2a2a2a" stroke-width="1"/>
<line x1="405" y1="59.62" x2="407" y2="59.62" stroke="#2a2a2a" stroke-width="1"/>
<line x1="405" y1="37.87" x2="407" y2="37.87" stroke="#2a2a2a" stroke-width="1"/>
<line x1="407" y1="244.5" x2="407" y2="248.5" stroke="#2a2a2a" stroke-width="1"/>
<line x1="460.9" y1="244.5" x2="460.9" y2="248.5" stroke="#2a2a2a" stroke-width="1"/>
<line x1="514.8" y1="244.5" x2="514.8" y2="248.5" stroke="#2a2a2a" stroke-width="1"/>
<line x1="568.7" y1="244.5" x2="568.7" y2="248.5" stroke="#2a2a2a" stroke-width="1"/>
<line x1="622.6" y1="244.5" x2="622.6" y2="248.5" stroke="#2a2a2a" stroke-width="1"/>
<line x1="676.5" y1="244.5" x2="676.5" y2="248.5" stroke="#2a2a2a" stroke-width="1"/>
<line x1="433.95" y1="244.5" x2="433.95" y2="246.5" stroke="#2a2a2a" stroke-width="1"/>
<line x1="487.85" y1="244.5" x2="487.85" y2="246.5" stroke="#2a2a2a" stroke-width="1"/>
<line x1="541.75" y1="244.5" x2="541.75" y2="246.5" stroke="#2a2a2a" stroke-width="1"/>
<line x1="595.65" y1="244.5" x2="595.65" y2="246.5" stroke="#2a2a2a" stroke-width="1"/>
<line x1="649.55" y1="244.5" x2="649.55" y2="246.5" stroke="#2a2a2a" stroke-width="1"/>
<text x="0" y="0" font-size="9.4" text-anchor="end" fill="#1a1a1a" stroke="#1a1a1a" stroke-width="0.22" transform="translate(400 247.55) scale(0.97 1)">0.0</text>
<text x="0" y="0" font-size="9.4" text-anchor="end" fill="#1a1a1a" stroke="#1a1a1a" stroke-width="0.22" transform="translate(400 225.8) scale(0.97 1)">0.1</text>
<text x="0" y="0" font-size="9.4" text-anchor="end" fill="#1a1a1a" stroke="#1a1a1a" stroke-width="0.22" transform="translate(400 204.05) scale(0.97 1)">0.2</text>
<text x="0" y="0" font-size="9.4" text-anchor="end" fill="#1a1a1a" stroke="#1a1a1a" stroke-width="0.22" transform="translate(400 182.3) scale(0.97 1)">0.3</text>
<text x="0" y="0" font-size="9.4" text-anchor="end" fill="#1a1a1a" stroke="#1a1a1a" stroke-width="0.22" transform="translate(400 160.55) scale(0.97 1)">0.4</text>
<text x="0" y="0" font-size="9.4" text-anchor="end" fill="#1a1a1a" stroke="#1a1a1a" stroke-width="0.22" transform="translate(400 138.8) scale(0.97 1)">0.5</text>
<text x="0" y="0" font-size="9.4" text-anchor="end" fill="#1a1a1a" stroke="#1a1a1a" stroke-width="0.22" transform="translate(400 117.05) scale(0.97 1)">0.6</text>
<text x="0" y="0" font-size="9.4" text-anchor="end" fill="#1a1a1a" stroke="#1a1a1a" stroke-width="0.22" transform="translate(400 95.3) scale(0.97 1)">0.7</text>
<text x="0" y="0" font-size="9.4" text-anchor="end" fill="#1a1a1a" stroke="#1a1a1a" stroke-width="0.22" transform="translate(400 73.55) scale(0.97 1)">0.8</text>
<text x="0" y="0" font-size="9.4" text-anchor="end" fill="#1a1a1a" stroke="#1a1a1a" stroke-width="0.22" transform="translate(400 51.8) scale(0.97 1)">0.9</text>
<text x="0" y="0" font-size="9.4" text-anchor="end" fill="#1a1a1a" stroke="#1a1a1a" stroke-width="0.22" transform="translate(400 30.05) scale(0.97 1)">1.0</text>
<text x="0" y="0" font-size="9.4" text-anchor="middle" fill="#1a1a1a" stroke="#1a1a1a" stroke-width="0.22" transform="translate(407 258.8) scale(0.97 1)">0.0</text>
<text x="0" y="0" font-size="9.4" text-anchor="middle" fill="#1a1a1a" stroke="#1a1a1a" stroke-width="0.22" transform="translate(460.9 258.8) scale(0.97 1)">0.1</text>
<text x="0" y="0" font-size="9.4" text-anchor="middle" fill="#1a1a1a" stroke="#1a1a1a" stroke-width="0.22" transform="translate(514.8 258.8) scale(0.97 1)">0.2</text>
<text x="0" y="0" font-size="9.4" text-anchor="middle" fill="#1a1a1a" stroke="#1a1a1a" stroke-width="0.22" transform="translate(568.7 258.8) scale(0.97 1)">0.3</text>
<text x="0" y="0" font-size="9.4" text-anchor="middle" fill="#1a1a1a" stroke="#1a1a1a" stroke-width="0.22" transform="translate(622.6 258.8) scale(0.97 1)">0.4</text>
<text x="0" y="0" font-size="9.4" text-anchor="middle" fill="#1a1a1a" stroke="#1a1a1a" stroke-width="0.22" transform="translate(676.5 258.8) scale(0.97 1)">0.5</text>
<line x1="40" y1="508" x2="44" y2="508" stroke="#2a2a2a" stroke-width="1"/>
<line x1="40" y1="486.25" x2="44" y2="486.25" stroke="#2a2a2a" stroke-width="1"/>
<line x1="40" y1="464.5" x2="44" y2="464.5" stroke="#2a2a2a" stroke-width="1"/>
<line x1="40" y1="442.75" x2="44" y2="442.75" stroke="#2a2a2a" stroke-width="1"/>
<line x1="40" y1="421" x2="44" y2="421" stroke="#2a2a2a" stroke-width="1"/>
<line x1="40" y1="399.25" x2="44" y2="399.25" stroke="#2a2a2a" stroke-width="1"/>
<line x1="40" y1="377.5" x2="44" y2="377.5" stroke="#2a2a2a" stroke-width="1"/>
<line x1="40" y1="355.75" x2="44" y2="355.75" stroke="#2a2a2a" stroke-width="1"/>
<line x1="40" y1="334" x2="44" y2="334" stroke="#2a2a2a" stroke-width="1"/>
<line x1="40" y1="312.25" x2="44" y2="312.25" stroke="#2a2a2a" stroke-width="1"/>
<line x1="40" y1="290.5" x2="44" y2="290.5" stroke="#2a2a2a" stroke-width="1"/>
<line x1="42" y1="497.12" x2="44" y2="497.12" stroke="#2a2a2a" stroke-width="1"/>
<line x1="42" y1="475.38" x2="44" y2="475.38" stroke="#2a2a2a" stroke-width="1"/>
<line x1="42" y1="453.62" x2="44" y2="453.62" stroke="#2a2a2a" stroke-width="1"/>
<line x1="42" y1="431.88" x2="44" y2="431.88" stroke="#2a2a2a" stroke-width="1"/>
<line x1="42" y1="410.12" x2="44" y2="410.12" stroke="#2a2a2a" stroke-width="1"/>
<line x1="42" y1="388.38" x2="44" y2="388.38" stroke="#2a2a2a" stroke-width="1"/>
<line x1="42" y1="366.62" x2="44" y2="366.62" stroke="#2a2a2a" stroke-width="1"/>
<line x1="42" y1="344.88" x2="44" y2="344.88" stroke="#2a2a2a" stroke-width="1"/>
<line x1="42" y1="323.12" x2="44" y2="323.12" stroke="#2a2a2a" stroke-width="1"/>
<line x1="42" y1="301.38" x2="44" y2="301.38" stroke="#2a2a2a" stroke-width="1"/>
<line x1="44" y1="508.5" x2="44" y2="512.5" stroke="#2a2a2a" stroke-width="1"/>
<line x1="70.95" y1="508.5" x2="70.95" y2="512.5" stroke="#2a2a2a" stroke-width="1"/>
<line x1="97.9" y1="508.5" x2="97.9" y2="512.5" stroke="#2a2a2a" stroke-width="1"/>
<line x1="124.85" y1="508.5" x2="124.85" y2="512.5" stroke="#2a2a2a" stroke-width="1"/>
<line x1="151.8" y1="508.5" x2="151.8" y2="512.5" stroke="#2a2a2a" stroke-width="1"/>
<line x1="178.75" y1="508.5" x2="178.75" y2="512.5" stroke="#2a2a2a" stroke-width="1"/>
<line x1="205.7" y1="508.5" x2="205.7" y2="512.5" stroke="#2a2a2a" stroke-width="1"/>
<line x1="232.65" y1="508.5" x2="232.65" y2="512.5" stroke="#2a2a2a" stroke-width="1"/>
<line x1="259.6" y1="508.5" x2="259.6" y2="512.5" stroke="#2a2a2a" stroke-width="1"/>
<line x1="286.55" y1="508.5" x2="286.55" y2="512.5" stroke="#2a2a2a" stroke-width="1"/>
<line x1="313.5" y1="508.5" x2="313.5" y2="512.5" stroke="#2a2a2a" stroke-width="1"/>
<line x1="57.48" y1="508.5" x2="57.48" y2="510.5" stroke="#2a2a2a" stroke-width="1"/>
<line x1="84.43" y1="508.5" x2="84.43" y2="510.5" stroke="#2a2a2a" stroke-width="1"/>
<line x1="111.38" y1="508.5" x2="111.38" y2="510.5" stroke="#2a2a2a" stroke-width="1"/>
<line x1="138.32" y1="508.5" x2="138.32" y2="510.5" stroke="#2a2a2a" stroke-width="1"/>
<line x1="165.28" y1="508.5" x2="165.28" y2="510.5" stroke="#2a2a2a" stroke-width="1"/>
<line x1="192.23" y1="508.5" x2="192.23" y2="510.5" stroke="#2a2a2a" stroke-width="1"/>
<line x1="219.18" y1="508.5" x2="219.18" y2="510.5" stroke="#2a2a2a" stroke-width="1"/>
<line x1="246.13" y1="508.5" x2="246.13" y2="510.5" stroke="#2a2a2a" stroke-width="1"/>
<line x1="273.08" y1="508.5" x2="273.08" y2="510.5" stroke="#2a2a2a" stroke-width="1"/>
<line x1="300.03" y1="508.5" x2="300.03" y2="510.5" stroke="#2a2a2a" stroke-width="1"/>
<text x="0" y="0" font-size="9.4" text-anchor="end" fill="#1a1a1a" stroke="#1a1a1a" stroke-width="0.22" transform="translate(37 511.05) scale(0.97 1)">−100</text>
<text x="0" y="0" font-size="9.4" text-anchor="end" fill="#1a1a1a" stroke="#1a1a1a" stroke-width="0.22" transform="translate(37 489.3) scale(0.97 1)">−75</text>
<text x="0" y="0" font-size="9.4" text-anchor="end" fill="#1a1a1a" stroke="#1a1a1a" stroke-width="0.22" transform="translate(37 467.55) scale(0.97 1)">−50</text>
<text x="0" y="0" font-size="9.4" text-anchor="end" fill="#1a1a1a" stroke="#1a1a1a" stroke-width="0.22" transform="translate(37 445.8) scale(0.97 1)">−25</text>
<text x="0" y="0" font-size="9.4" text-anchor="end" fill="#1a1a1a" stroke="#1a1a1a" stroke-width="0.22" transform="translate(37 424.05) scale(0.97 1)">0</text>
<text x="0" y="0" font-size="9.4" text-anchor="end" fill="#1a1a1a" stroke="#1a1a1a" stroke-width="0.22" transform="translate(37 402.3) scale(0.97 1)">25</text>
<text x="0" y="0" font-size="9.4" text-anchor="end" fill="#1a1a1a" stroke="#1a1a1a" stroke-width="0.22" transform="translate(37 380.55) scale(0.97 1)">50</text>
<text x="0" y="0" font-size="9.4" text-anchor="end" fill="#1a1a1a" stroke="#1a1a1a" stroke-width="0.22" transform="translate(37 358.8) scale(0.97 1)">75</text>
<text x="0" y="0" font-size="9.4" text-anchor="end" fill="#1a1a1a" stroke="#1a1a1a" stroke-width="0.22" transform="translate(37 337.05) scale(0.97 1)">100</text>
<text x="0" y="0" font-size="9.4" text-anchor="end" fill="#1a1a1a" stroke="#1a1a1a" stroke-width="0.22" transform="translate(37 315.3) scale(0.97 1)">125</text>
<text x="0" y="0" font-size="9.4" text-anchor="end" fill="#1a1a1a" stroke="#1a1a1a" stroke-width="0.22" transform="translate(37 293.55) scale(0.97 1)">150</text>
<text x="0" y="0" font-size="9.4" text-anchor="middle" fill="#1a1a1a" stroke="#1a1a1a" stroke-width="0.22" transform="translate(44 522.3) scale(0.97 1)">0.0</text>
<text x="0" y="0" font-size="9.4" text-anchor="middle" fill="#1a1a1a" stroke="#1a1a1a" stroke-width="0.22" transform="translate(70.95 522.3) scale(0.97 1)">0.1</text>
<text x="0" y="0" font-size="9.4" text-anchor="middle" fill="#1a1a1a" stroke="#1a1a1a" stroke-width="0.22" transform="translate(97.9 522.3) scale(0.97 1)">0.2</text>
<text x="0" y="0" font-size="9.4" text-anchor="middle" fill="#1a1a1a" stroke="#1a1a1a" stroke-width="0.22" transform="translate(124.85 522.3) scale(0.97 1)">0.3</text>
<text x="0" y="0" font-size="9.4" text-anchor="middle" fill="#1a1a1a" stroke="#1a1a1a" stroke-width="0.22" transform="translate(151.8 522.3) scale(0.97 1)">0.4</text>
<text x="0" y="0" font-size="9.4" text-anchor="middle" fill="#1a1a1a" stroke="#1a1a1a" stroke-width="0.22" transform="translate(178.75 522.3) scale(0.97 1)">0.5</text>
<text x="0" y="0" font-size="9.4" text-anchor="middle" fill="#1a1a1a" stroke="#1a1a1a" stroke-width="0.22" transform="translate(205.7 522.3) scale(0.97 1)">0.6</text>
<text x="0" y="0" font-size="9.4" text-anchor="middle" fill="#1a1a1a" stroke="#1a1a1a" stroke-width="0.22" transform="translate(232.65 522.3) scale(0.97 1)">0.7</text>
<text x="0" y="0" font-size="9.4" text-anchor="middle" fill="#1a1a1a" stroke="#1a1a1a" stroke-width="0.22" transform="translate(259.6 522.3) scale(0.97 1)">0.8</text>
<text x="0" y="0" font-size="9.4" text-anchor="middle" fill="#1a1a1a" stroke="#1a1a1a" stroke-width="0.22" transform="translate(286.55 522.3) scale(0.97 1)">0.9</text>
<text x="0" y="0" font-size="9.4" text-anchor="middle" fill="#1a1a1a" stroke="#1a1a1a" stroke-width="0.22" transform="translate(313.5 522.3) scale(0.97 1)">1.0</text>
<line x1="403" y1="507.7" x2="407" y2="507.7" stroke="#2a2a2a" stroke-width="1"/>
<line x1="403" y1="485.98" x2="407" y2="485.98" stroke="#2a2a2a" stroke-width="1"/>
<line x1="403" y1="464.26" x2="407" y2="464.26" stroke="#2a2a2a" stroke-width="1"/>
<line x1="403" y1="442.54" x2="407" y2="442.54" stroke="#2a2a2a" stroke-width="1"/>
<line x1="403" y1="420.82" x2="407" y2="420.82" stroke="#2a2a2a" stroke-width="1"/>
<line x1="403" y1="399.1" x2="407" y2="399.1" stroke="#2a2a2a" stroke-width="1"/>
<line x1="403" y1="377.38" x2="407" y2="377.38" stroke="#2a2a2a" stroke-width="1"/>
<line x1="403" y1="355.66" x2="407" y2="355.66" stroke="#2a2a2a" stroke-width="1"/>
<line x1="403" y1="333.94" x2="407" y2="333.94" stroke="#2a2a2a" stroke-width="1"/>
<line x1="403" y1="312.22" x2="407" y2="312.22" stroke="#2a2a2a" stroke-width="1"/>
<line x1="403" y1="290.5" x2="407" y2="290.5" stroke="#2a2a2a" stroke-width="1"/>
<line x1="405" y1="496.84" x2="407" y2="496.84" stroke="#2a2a2a" stroke-width="1"/>
<line x1="405" y1="475.12" x2="407" y2="475.12" stroke="#2a2a2a" stroke-width="1"/>
<line x1="405" y1="453.4" x2="407" y2="453.4" stroke="#2a2a2a" stroke-width="1"/>
<line x1="405" y1="431.68" x2="407" y2="431.68" stroke="#2a2a2a" stroke-width="1"/>
<line x1="405" y1="409.96" x2="407" y2="409.96" stroke="#2a2a2a" stroke-width="1"/>
<line x1="405" y1="388.24" x2="407" y2="388.24" stroke="#2a2a2a" stroke-width="1"/>
<line x1="405" y1="366.52" x2="407" y2="366.52" stroke="#2a2a2a" stroke-width="1"/>
<line x1="405" y1="344.8" x2="407" y2="344.8" stroke="#2a2a2a" stroke-width="1"/>
<line x1="405" y1="323.08" x2="407" y2="323.08" stroke="#2a2a2a" stroke-width="1"/>
<line x1="405" y1="301.36" x2="407" y2="301.36" stroke="#2a2a2a" stroke-width="1"/>
<line x1="407" y1="507.5" x2="407" y2="511.5" stroke="#2a2a2a" stroke-width="1"/>
<line x1="440.69" y1="507.5" x2="440.69" y2="511.5" stroke="#2a2a2a" stroke-width="1"/>
<line x1="474.38" y1="507.5" x2="474.38" y2="511.5" stroke="#2a2a2a" stroke-width="1"/>
<line x1="508.06" y1="507.5" x2="508.06" y2="511.5" stroke="#2a2a2a" stroke-width="1"/>
<line x1="541.75" y1="507.5" x2="541.75" y2="511.5" stroke="#2a2a2a" stroke-width="1"/>
<line x1="575.44" y1="507.5" x2="575.44" y2="511.5" stroke="#2a2a2a" stroke-width="1"/>
<line x1="609.12" y1="507.5" x2="609.12" y2="511.5" stroke="#2a2a2a" stroke-width="1"/>
<line x1="642.81" y1="507.5" x2="642.81" y2="511.5" stroke="#2a2a2a" stroke-width="1"/>
<line x1="676.5" y1="507.5" x2="676.5" y2="511.5" stroke="#2a2a2a" stroke-width="1"/>
<line x1="423.84" y1="507.5" x2="423.84" y2="509.5" stroke="#2a2a2a" stroke-width="1"/>
<line x1="457.53" y1="507.5" x2="457.53" y2="509.5" stroke="#2a2a2a" stroke-width="1"/>
<line x1="491.22" y1="507.5" x2="491.22" y2="509.5" stroke="#2a2a2a" stroke-width="1"/>
<line x1="524.91" y1="507.5" x2="524.91" y2="509.5" stroke="#2a2a2a" stroke-width="1"/>
<line x1="558.59" y1="507.5" x2="558.59" y2="509.5" stroke="#2a2a2a" stroke-width="1"/>
<line x1="592.28" y1="507.5" x2="592.28" y2="509.5" stroke="#2a2a2a" stroke-width="1"/>
<line x1="625.97" y1="507.5" x2="625.97" y2="509.5" stroke="#2a2a2a" stroke-width="1"/>
<line x1="659.66" y1="507.5" x2="659.66" y2="509.5" stroke="#2a2a2a" stroke-width="1"/>
<text x="0" y="0" font-size="9.4" text-anchor="end" fill="#1a1a1a" stroke="#1a1a1a" stroke-width="0.22" transform="translate(400 510.75) scale(0.97 1)">0.00</text>
<text x="0" y="0" font-size="9.4" text-anchor="end" fill="#1a1a1a" stroke="#1a1a1a" stroke-width="0.22" transform="translate(400 489.03) scale(0.97 1)">0.02</text>
<text x="0" y="0" font-size="9.4" text-anchor="end" fill="#1a1a1a" stroke="#1a1a1a" stroke-width="0.22" transform="translate(400 467.31) scale(0.97 1)">0.04</text>
<text x="0" y="0" font-size="9.4" text-anchor="end" fill="#1a1a1a" stroke="#1a1a1a" stroke-width="0.22" transform="translate(400 445.59) scale(0.97 1)">0.06</text>
<text x="0" y="0" font-size="9.4" text-anchor="end" fill="#1a1a1a" stroke="#1a1a1a" stroke-width="0.22" transform="translate(400 423.87) scale(0.97 1)">0.08</text>
<text x="0" y="0" font-size="9.4" text-anchor="end" fill="#1a1a1a" stroke="#1a1a1a" stroke-width="0.22" transform="translate(400 402.15) scale(0.97 1)">0.10</text>
<text x="0" y="0" font-size="9.4" text-anchor="end" fill="#1a1a1a" stroke="#1a1a1a" stroke-width="0.22" transform="translate(400 380.43) scale(0.97 1)">0.12</text>
<text x="0" y="0" font-size="9.4" text-anchor="end" fill="#1a1a1a" stroke="#1a1a1a" stroke-width="0.22" transform="translate(400 358.71) scale(0.97 1)">0.14</text>
<text x="0" y="0" font-size="9.4" text-anchor="end" fill="#1a1a1a" stroke="#1a1a1a" stroke-width="0.22" transform="translate(400 336.99) scale(0.97 1)">0.16</text>
<text x="0" y="0" font-size="9.4" text-anchor="end" fill="#1a1a1a" stroke="#1a1a1a" stroke-width="0.22" transform="translate(400 315.27) scale(0.97 1)">0.18</text>
<text x="0" y="0" font-size="9.4" text-anchor="end" fill="#1a1a1a" stroke="#1a1a1a" stroke-width="0.22" transform="translate(400 293.55) scale(0.97 1)">0.20</text>
<text x="0" y="0" font-size="9.4" text-anchor="middle" fill="#1a1a1a" stroke="#1a1a1a" stroke-width="0.22" transform="translate(407 522.3) scale(0.97 1)">650</text>
<text x="0" y="0" font-size="9.4" text-anchor="middle" fill="#1a1a1a" stroke="#1a1a1a" stroke-width="0.22" transform="translate(440.69 522.3) scale(0.97 1)">675</text>
<text x="0" y="0" font-size="9.4" text-anchor="middle" fill="#1a1a1a" stroke="#1a1a1a" stroke-width="0.22" transform="translate(474.38 522.3) scale(0.97 1)">700</text>
<text x="0" y="0" font-size="9.4" text-anchor="middle" fill="#1a1a1a" stroke="#1a1a1a" stroke-width="0.22" transform="translate(508.06 522.3) scale(0.97 1)">725</text>
<text x="0" y="0" font-size="9.4" text-anchor="middle" fill="#1a1a1a" stroke="#1a1a1a" stroke-width="0.22" transform="translate(541.75 522.3) scale(0.97 1)">750</text>
<text x="0" y="0" font-size="9.4" text-anchor="middle" fill="#1a1a1a" stroke="#1a1a1a" stroke-width="0.22" transform="translate(575.44 522.3) scale(0.97 1)">775</text>
<text x="0" y="0" font-size="9.4" text-anchor="middle" fill="#1a1a1a" stroke="#1a1a1a" stroke-width="0.22" transform="translate(609.12 522.3) scale(0.97 1)">800</text>
<text x="0" y="0" font-size="9.4" text-anchor="middle" fill="#1a1a1a" stroke="#1a1a1a" stroke-width="0.22" transform="translate(642.81 522.3) scale(0.97 1)">825</text>
<text x="0" y="0" font-size="9.4" text-anchor="middle" fill="#1a1a1a" stroke="#1a1a1a" stroke-width="0.22" transform="translate(676.5 522.3) scale(0.97 1)">850</text>
<line x1="44" y1="27.25" x2="314.0" y2="27.25" stroke="#555" stroke-width="1.3"/>
<line x1="313.5" y1="27" x2="313.5" y2="244.5" stroke="#333" stroke-width="1"/>
<line x1="44" y1="244.5" x2="314.0" y2="244.5" stroke="#333" stroke-width="1"/>
<line x1="44.2" y1="26.6" x2="44.2" y2="245.0" stroke="#555" stroke-width="1.4"/>
<line x1="407" y1="27.25" x2="677.0" y2="27.25" stroke="#555" stroke-width="1.3"/>
<line x1="676.5" y1="27" x2="676.5" y2="244.5" stroke="#333" stroke-width="1"/>
<line x1="407" y1="244.5" x2="677.0" y2="244.5" stroke="#333" stroke-width="1"/>
<line x1="407.2" y1="26.6" x2="407.2" y2="245.0" stroke="#555" stroke-width="1.4"/>
<line x1="44" y1="290.75" x2="314.0" y2="290.75" stroke="#555" stroke-width="1.3"/>
<line x1="313.5" y1="290.5" x2="313.5" y2="508.5" stroke="#333" stroke-width="1"/>
<line x1="44" y1="508.5" x2="314.0" y2="508.5" stroke="#333" stroke-width="1"/>
<line x1="44.2" y1="290.1" x2="44.2" y2="509.0" stroke="#555" stroke-width="1.4"/>
<line x1="407" y1="290.75" x2="677.0" y2="290.75" stroke="#555" stroke-width="1.3"/>
<line x1="676.5" y1="290.5" x2="676.5" y2="507.5" stroke="#333" stroke-width="1"/>
<line x1="407" y1="507.5" x2="677.0" y2="507.5" stroke="#333" stroke-width="1"/>
<line x1="407.2" y1="290.1" x2="407.2" y2="508.0" stroke="#555" stroke-width="1.4"/>
<text x="179.2" y="276" font-size="11.3" text-anchor="middle" fill="#111" stroke="#111" stroke-width="0.2">Mg-Nd Composition (X<tspan font-size="8.14" dy="2.9">Nd</tspan><tspan dy="-2.9">)</tspan></text>
<text x="542.3" y="276" font-size="11.3" text-anchor="middle" fill="#111" stroke="#111" stroke-width="0.2">Mg-Nd Composition (X<tspan font-size="8.14" dy="2.9">Nd</tspan><tspan dy="-2.9">)</tspan></text>
<text x="179.2" y="539.3" font-size="11.3" text-anchor="middle" fill="#111" stroke="#111" stroke-width="0.2">Mg-Nd Composition (X<tspan font-size="8.14" dy="2.9">Nd</tspan><tspan dy="-2.9">)</tspan></text>
<text x="542.1" y="539.3" font-size="11.3" text-anchor="middle" fill="#111" stroke="#111" stroke-width="0.2">Temperature (°C)</text>
<text x="0" y="0" font-size="11.3" text-anchor="middle" fill="#111" stroke="#111" stroke-width="0.2" transform="translate(17.1 135.6) rotate(-90)">Activity Coefficient γ<tspan font-size="8.14" dy="2.9">i</tspan></text>
<text x="0" y="0" font-size="11.3" text-anchor="middle" fill="#111" stroke="#111" stroke-width="0.2" transform="translate(380 135.5) rotate(-90)">Activity a<tspan font-size="8.14" dy="2.9">i</tspan></text>
<text x="0" y="0" font-size="11.3" text-anchor="middle" fill="#111" stroke="#111" stroke-width="0.2" transform="translate(8.7 399.5) rotate(-90)">Reduction ΔG (kJ/mol Nd<tspan font-size="8.14" dy="2.9">2</tspan><tspan dy="-2.9">O</tspan><tspan font-size="8.14" dy="2.9">3</tspan><tspan dy="-2.9">)</tspan></text>
<text x="0" y="0" font-size="11.3" text-anchor="middle" fill="#111" stroke="#111" stroke-width="0.2" transform="translate(375.2 399) rotate(-90)">Eq. Reduction Mg-Nd Composition (X<tspan font-size="8.14" dy="2.9">Nd</tspan><tspan dy="-2.9">)</tspan></text>
<text x="59" y="89.7" font-size="12.5" fill="#a01e69" stroke="#a01e69" stroke-width="0.2">γ<tspan font-size="8.5" dy="2.6">Mg, 695°C</tspan></text>
<line x1="98" y1="82.8" x2="106.79" y2="76.28" stroke="#a01e69" stroke-width="1.25"/>
<path d="M110.4 73.6 L107.81 78.51 L104.95 74.65 Z" fill="#a01e69"/>
<text x="142.8" y="229.5" font-size="12.5" fill="#2a20ee" stroke="#2a20ee" stroke-width="0.2">γ<tspan font-size="8.5" dy="3.0">Nd, 695°C</tspan></text>
<line x1="138.9" y1="227.3" x2="127.4" y2="227.3" stroke="#2a20ee" stroke-width="1.25"/>
<path d="M122.9 227.3 L127.9 224.9 L127.9 229.7 Z" fill="#2a20ee"/>
<text x="251.5" y="70.4" font-size="12.5" fill="#6469f8" stroke="#6469f8" stroke-width="0.2" transform="rotate(-15 251.5 70.4)">γ<tspan font-size="8.8" dy="2.6">Nd, 850°C</tspan></text>
<text x="248.6" y="129.6" font-size="12.5" fill="#ff55c8" stroke="#ff55c8" stroke-width="0.2" transform="rotate(9 248.6 129.6)">γ<tspan font-size="8.5" dy="2.6">Mg, 850°C</tspan></text>
<text x="422.2" y="110" font-size="12.5" fill="#a01e69" stroke="#a01e69" stroke-width="0.2">a<tspan font-size="8.5" dy="3.1">Mg, 695°C</tspan></text>
<line x1="459.1" y1="103.6" x2="468.12" y2="96.73" stroke="#a01e69" stroke-width="1.25"/>
<path d="M471.7 94 L469.18 98.94 L466.27 95.12 Z" fill="#a01e69"/>
<text x="534.5" y="237.4" font-size="12.5" fill="#2a20ee" stroke="#2a20ee" stroke-width="0.2">a<tspan font-size="8.5" dy="3.1">Nd, 695°C</tspan></text>
<line x1="528.8" y1="235.6" x2="501.05" y2="239.65" stroke="#2a20ee" stroke-width="1.25"/>
<path d="M496.6 240.3 L501.2 237.2 L501.89 241.95 Z" fill="#2a20ee"/>
<text x="477.2" y="48.4" font-size="12.5" fill="#f2606e" stroke="#f2606e" stroke-width="0.2" transform="rotate(22 477.2 48.4)">a<tspan font-size="8.5" dy="3.6">Mg, Ideal</tspan></text>
<text x="528.5" y="124.4" font-size="12.5" fill="#ff55c8" stroke="#ff55c8" stroke-width="0.2" transform="rotate(33 528.5 124.4)">a<tspan font-size="8.5" dy="2.8">Mg, 850°C</tspan></text>
<text x="475.5" y="210.4" font-size="12.5" fill="#50bef0" stroke="#50bef0" stroke-width="0.2" transform="rotate(-21 475.5 210.4)">a<tspan font-size="8.5" dy="2.8">Nd, Ideal</tspan></text>
<text x="546" y="211.4" font-size="12.5" fill="#6469f8" stroke="#6469f8" stroke-width="0.2" transform="rotate(-27 546 211.4)">a<tspan font-size="8.5" dy="2.8">Nd, 850°C</tspan></text>
<text x="177.2" y="317.3" font-size="13" fill="#46aa32" stroke="#46aa32" stroke-width="0.2">ΔG<tspan font-size="8.5" dy="3.1">Ideal</tspan></text>
<line x1="219.9" y1="325" x2="244.23" y2="337.98" stroke="#46aa32" stroke-width="1.25"/>
<path d="M248.2 340.1 L242.66 339.86 L244.92 335.63 Z" fill="#46aa32"/>
<text x="283.8" y="369.1" font-size="13" fill="#ff55cc" stroke="#ff55cc" stroke-width="0.2">ΔG<tspan font-size="8.5" dy="-4">0</tspan></text>
<text x="118.2" y="456.8" font-size="13" fill="#3c7dbe" stroke="#3c7dbe" stroke-width="0.2">ΔG<tspan font-size="8.5" dy="2.9">Non-Ideal</tspan></text>
<line x1="113.6" y1="450.5" x2="90.5" y2="437.15" stroke="#3c7dbe" stroke-width="1.25"/>
<path d="M86.6 434.9 L92.13 435.32 L89.73 439.48 Z" fill="#3c7dbe"/>
<text x="264.9" y="415.5" font-size="13" text-anchor="start" fill="#111" stroke="#111" stroke-width="0.05" >ΔG = 0</text>
<text x="247.7" y="500.9" font-size="13" text-anchor="start" fill="#111" stroke="#111" stroke-width="0.05" >T = 850°C</text>
<text x="500" y="325.3" font-size="13" fill="#3c7dbe" stroke="#3c7dbe" stroke-width="0.2">Eq. X<tspan font-size="8.5" dy="2.6">Nd, Non-Ideal</tspan></text>
<text x="509" y="442.5" font-size="13" fill="#46aa32" stroke="#46aa32" stroke-width="0.2">Eq. X<tspan font-size="8.5" dy="2.6">Nd, Ideal</tspan></text>
</svg>
</body></html>
